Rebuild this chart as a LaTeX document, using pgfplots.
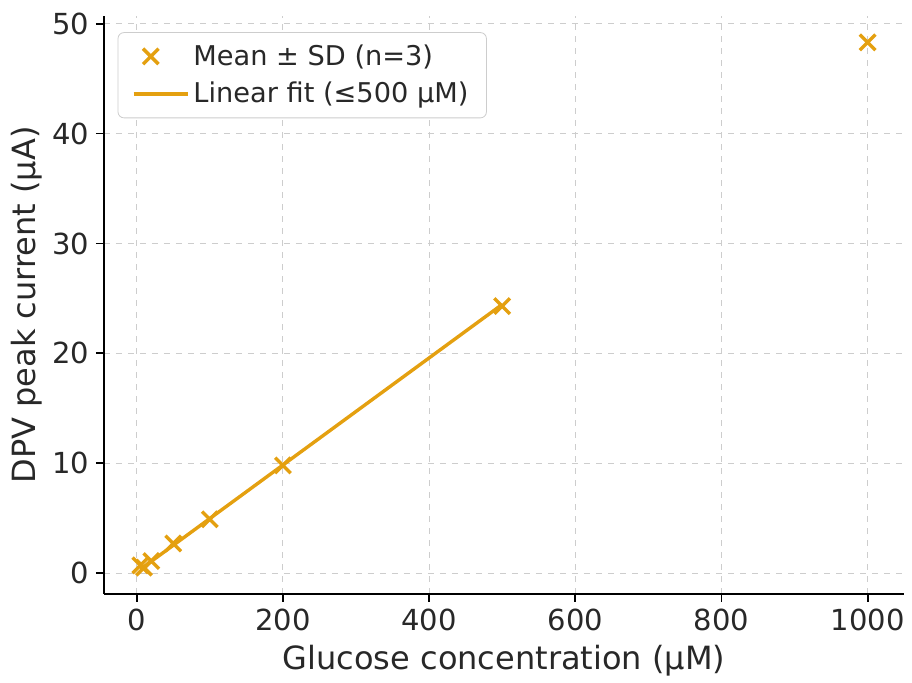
\documentclass[border=0pt]{standalone}
\usepackage{fontspec}
\setmainfont{DejaVu Sans}
\usepackage{pgfplots}
\pgfplotsset{compat=1.18}
\definecolor{fitorange}{RGB}{228,160,16}
\definecolor{gridgray}{RGB}{205,205,205}
\definecolor{txtgray}{RGB}{40,40,40}
\pgfplotsset{fitlegend/.style={legend image code/.code={\draw[##1] (0cm,0cm) -- (0.95cm,0cm);}}}

\begin{document}
\begin{tikzpicture}
\begin{axis}[
    scale only axis,
    width=400pt, height=289pt,
    xmin=-44.75, xmax=1049.75,
    ymin=-1.9, ymax=50.7,
    xtick={0,200,400,600,800,1000},
    ytick={0,10,20,30,40,50},
    axis x line*=bottom, axis y line*=left,
    axis line style={-, line width=0.9pt, black},
    tick align=outside,
    major tick length=4pt,
    tick style={line width=0.9pt, black},
    grid=major,
    grid style={dashed, gridgray, line width=0.5pt},
    xlabel={Glucose concentration (µM)},
    ylabel={DPV peak current (µA)},
    label style={font=\fontsize{16}{19}\selectfont, text=txtgray},
    tick label style={font=\fontsize{14.5}{17}\selectfont, text=txtgray},
    /pgf/number format/assume math mode=true,
    /pgf/number format/1000 sep={},
    xlabel style={yshift=0pt},
    ylabel style={yshift=-2pt},
    legend style={at={(0.017,0.972)}, anchor=north west, font=\fontsize{13.6}{16}\selectfont, text=txtgray,
        draw=gridgray, rounded corners=3pt, inner xsep=7pt, inner ysep=4pt, row sep=3pt},
    legend cell align=left,
]
\addplot[only marks, mark=x, mark size=5.5pt, line width=1.7pt, color=fitorange]
  coordinates {(5,0.7) (10,0.5) (20,1.1) (50,2.7) (100,4.9) (200,9.8) (500,24.3) (1000,48.3)};
\addlegendentry{Mean ± SD (n=3)}
\addplot[line width=1.7pt, color=fitorange, fitlegend]
  coordinates {(5,0.34) (500,24.45)};
\addlegendentry{Linear fit (≤500 µM)}
\end{axis}
\path (-52pt,-44pt) rectangle (404pt,297pt);
\end{tikzpicture}
\end{document}
